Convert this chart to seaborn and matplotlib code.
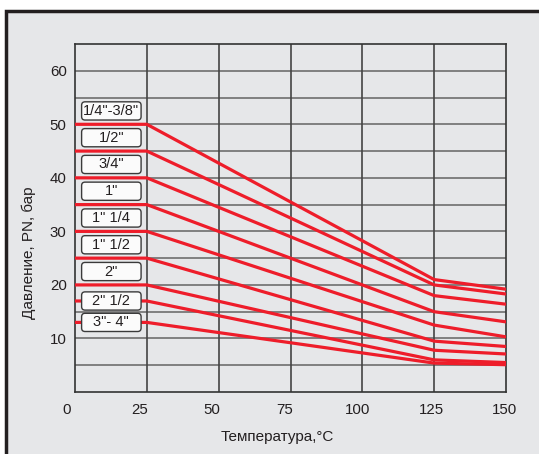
import numpy as np
import pandas as pd
import matplotlib
matplotlib.use('Agg')
import matplotlib.pyplot as plt
import matplotlib.transforms as mtransforms
from matplotlib.patches import Rectangle, FancyBboxPatch
import seaborn as sns

# ── data ─────────────────────────────────────────────────
temps = [0, 25, 125, 150]
sizes = ['1/4"-3/8"', '1/2"', '3/4"', '1"', '1" 1/4', '1" 1/2', '2"', '2" 1/2', '3"- 4"']
pn_0 = [50, 45, 40, 35, 30, 25, 20, 17, 13]
pn_25 = [50, 45, 40, 35, 30, 25, 20, 17, 13]
pn_125 = [21, 20, 18, 15, 12.5, 9.5, 7.8, 6.0, 5.4]
pn_150 = [19.2, 18.3, 16.4, 13.1, 10.3, 8.5, 7.1, 5.5, 5.1]
label_y = [52.5, 47.5, 42.5, 37.5, 32.5, 27.5, 22.5, 17, 13]

rows = []
for i, s in enumerate(sizes):
    for t, p in zip(temps, [pn_0[i], pn_25[i], pn_125[i], pn_150[i]]):
        rows.append({'size': s, 'temp': t, 'pn': p})
df = pd.DataFrame(rows)

sns.set_style('white')
plt.rcParams['font.family'] = ['Liberation Sans', 'DejaVu Sans']

BG = '#e6e7e9'
RED = '#ee1d2a'

fig = plt.figure(figsize=(5.39, 4.54), dpi=100)
fig.patch.set_facecolor('white')
# outer frame (cut off at the right and bottom like the source)
frame = Rectangle((6 / 539, -0.1), 1.2, (454 - 11) / 454 + 0.1,
                  transform=fig.transFigure, facecolor=BG,
                  edgecolor='#231f20', lw=2.5, zorder=-10)
fig.patches.append(frame)

ax = fig.add_axes([75 / 539, (454 - 392) / 454, 431 / 539, 348 / 454])
ax.set_facecolor(BG)
ax.set_zorder(1)

sns.lineplot(data=df, x='temp', y='pn', hue='size', palette=[RED] * len(sizes),
             estimator=None, legend=False, lw=2.3, ax=ax, zorder=3)

ax.set_xlim(0, 150)
ax.set_ylim(0, 65)
ax.set_xticks(range(0, 151, 25))
ax.set_yticks(range(5, 61, 5))
ax.set_yticklabels([str(v) if v % 10 == 0 else '' for v in range(5, 61, 5)])
ax.tick_params(length=0, labelsize=10.8, colors='#231f20')
ax.tick_params(axis='x', pad=8)
ax.tick_params(axis='y', pad=6)

# x tick labels in the source sit a little left of their grid lines
shifts = [-8, -7, -7, -6, -5, -3, -1]
for lab, dx in zip(ax.get_xticklabels(), shifts):
    lab.set_transform(lab.get_transform() +
                      mtransforms.ScaledTranslation(dx / 100, 0, fig.dpi_scale_trans))

ax.grid(False)
for v in range(5, 65, 5):
    ax.axhline(v, color='#6e6e6e', lw=1.2, zorder=1)
for v in range(25, 150, 25):
    ax.axvline(v, color='#444444', lw=1.2, zorder=1)
for sp in ax.spines.values():
    sp.set_color('#333333')
    sp.set_linewidth(1.2)

# size labels in rounded boxes
for s, y in zip(sizes, label_y):
    ax.add_patch(FancyBboxPatch((2.3, y - 1.7), 20.7, 3.4,
                                boxstyle='round,pad=0,rounding_size=1.2',
                                mutation_aspect=0.54, fc='#fbfbfb',
                                ec='#3a3a3a', lw=1.0, zorder=4))
    ax.text(12.65, y, s, ha='center', va='center', fontsize=10.5,
            color='#231f20', zorder=5)

ax.set_xlabel('Температура,°C', fontsize=11, color='#231f20')
ax.set_ylabel('Давление, PN, бар', fontsize=11, color='#231f20')
ax.xaxis.set_label_coords(0.47, -0.11)
ax.yaxis.set_label_coords(-0.09, 0.40)

fig.savefig('out.png', dpi=100, facecolor='white')
